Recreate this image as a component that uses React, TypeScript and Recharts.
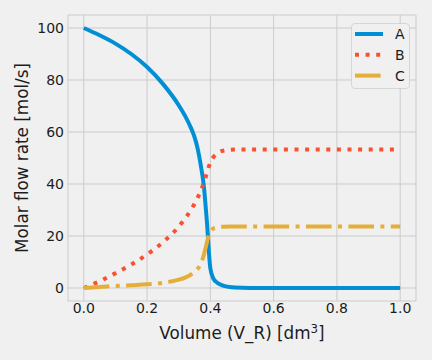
import { LineChart, Line, XAxis, YAxis, CartesianGrid, Label } from "recharts"

const FONT = "'DejaVu Sans', sans-serif"
const TEXT = "#1c1c1c"

// reactor volume [dm3] and molar flow rates [mol/s]
const volume = [
  0, 0.05, 0.1, 0.15, 0.2, 0.25, 0.3, 0.32, 0.34, 0.35, 0.36, 0.37, 0.38, 0.385, 0.39,
  0.395, 0.4, 0.41, 0.42, 0.43, 0.44, 0.46, 0.5, 0.55, 0.6, 0.7, 0.8, 0.9, 1.0,
]
const flowA = [
  100, 97.2, 94, 90, 85, 78.5, 70.3, 66.2, 61.2, 58, 53.5, 47, 38.5, 31.5, 24,
  14.5, 7.5, 3.5, 2.2, 1.4, 0.9, 0.4, 0.1, 0.03, 0, 0, 0, 0, 0,
]
const flowB = [
  0, 2.6, 5.7, 9, 12.9, 17.6, 23.6, 26.7, 30.3, 32.4, 34.8, 37.4, 40.8, 42.6, 44.6,
  46.6, 48.3, 50.4, 51.6, 52.4, 52.8, 53.1, 53.3, 53.3, 53.3, 53.3, 53.3, 53.3, 53.3,
]
const flowC = [
  0, 0.35, 0.8, 1.1, 1.4, 2, 3.2, 4, 5.3, 6.2, 7.4, 9.3, 13, 15.5, 18,
  20.3, 21.8, 22.9, 23.3, 23.5, 23.6, 23.7, 23.7, 23.7, 23.7, 23.7, 23.7, 23.7, 23.7,
]

const xTicks = [0, 0.2, 0.4, 0.6, 0.8, 1.0]
const yTicks = [0, 20, 40, 60, 80, 100]

const data = volume.map((v, i) => ({ v, A: flowA[i], B: flowB[i], C: flowC[i] }))

const SERIES = [
  { key: "A", color: "#008fd5", dash: undefined },
  { key: "B", color: "#fc4f30", dash: "4 6.6" },
  { key: "C", color: "#e5ae38", dash: "25.6 6.4 4 6.4" },
]

// drawn outside recharts so it doesn't eat plot space
function LegendBox() {
  return (
    <div
      style={{
        position: "absolute",
        left: 351,
        top: 23,
        width: 59,
        height: 66,
        boxSizing: "border-box",
        border: "1px solid #d6d6d6",
        borderRadius: 4,
        background: "#f0f0f0",
      }}
    >
      <svg width={57} height={64} style={{ display: "block" }}>
        {SERIES.map((s, i) => {
          const y = 10 + 20.8 * i
          return (
            <g key={s.key}>
              <line x1={3} x2={31} y1={y} y2={y} stroke={s.color} strokeWidth={4} strokeDasharray={s.dash} />
              <text x={43} y={y + 5} fontSize={14} fontFamily={FONT} fill={TEXT}>
                {s.key}
              </text>
            </g>
          )
        })}
      </svg>
    </div>
  )
}

export default function App() {
  const tick = { fontSize: 14, fontFamily: FONT, fill: TEXT }
  return (
    <div style={{ position: "absolute", left: 0, top: 0, width: 432, height: 360, background: "#f0f0f0" }}>
      <LineChart width={432} height={360} data={data} margin={{ top: 15, right: 16, bottom: 0, left: 9 }}>
        <CartesianGrid stroke="#cbcbcb" strokeWidth={1} />
        <XAxis
          dataKey="v"
          type="number"
          domain={[-0.05, 1.05]}
          ticks={xTicks}
          tickFormatter={(t: number) => t.toFixed(1)}
          axisLine={false}
          tickLine={false}
          tickSize={0}
          tickMargin={2.5}
          height={59}
          tick={tick}
        >
          <Label
            content={() => (
              <text x={242} y={339} textAnchor="middle" fontSize={16.8} fontFamily={FONT} fill={TEXT}>
                Volume (V_R) [dm
                <tspan dy={-6.5} fontSize={11.8}>3</tspan>
                <tspan dy={6.5}>]</tspan>
              </text>
            )}
          />
        </XAxis>
        <YAxis
          type="number"
          domain={[-5, 105]}
          ticks={yTicks}
          axisLine={false}
          tickLine={false}
          tickSize={0}
          tickMargin={4}
          width={59}
          tick={tick}
        >
          <Label
            content={() => (
              <text
                x={28}
                y={158}
                transform="rotate(-90, 28, 158)"
                textAnchor="middle"
                fontSize={16.8}
                fontFamily={FONT}
                fill={TEXT}
              >
                Molar flow rate [mol/s]
              </text>
            )}
          />
        </YAxis>
        {SERIES.map((s) => (
          <Line
            key={s.key}
            dataKey={s.key}
            type="monotone"
            stroke={s.color}
            strokeWidth={4}
            strokeDasharray={s.dash}
            dot={false}
            activeDot={false}
            isAnimationActive={false}
          />
        ))}
      </LineChart>
      <LegendBox />
    </div>
  )
}
